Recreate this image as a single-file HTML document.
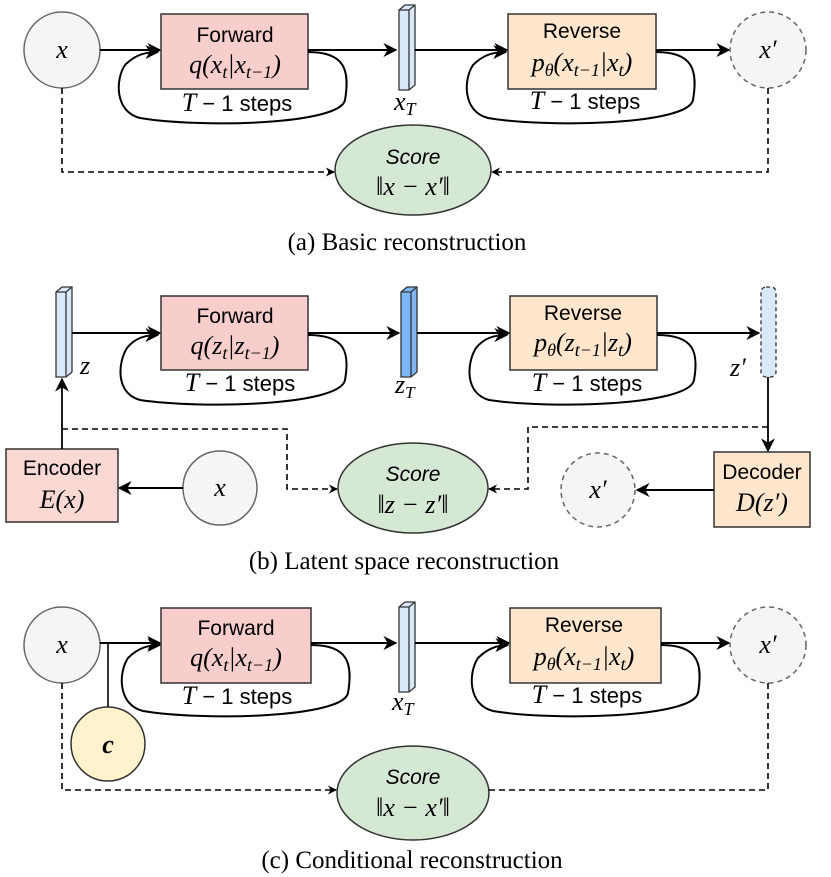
<!DOCTYPE html>
<html><head><meta charset="utf-8"><style>
html,body{margin:0;padding:0;background:#fff;}
svg{display:block;}
.m{font-family:"Liberation Serif",serif;font-style:italic;font-size:26px;}
.s{font-family:"Liberation Sans",sans-serif;font-size:21px;}
.st{font-family:"Liberation Sans",sans-serif;font-size:22px;}
.c{font-family:"Liberation Serif",serif;font-size:25px;}
</style></head><body>
<svg width="831" height="877" viewBox="0 0 831 877" xmlns="http://www.w3.org/2000/svg">
<defs>
<marker id="a" viewBox="0 0 10 10" refX="9" refY="5" markerWidth="9" markerHeight="9" orient="auto" markerUnits="userSpaceOnUse"><path d="M0,0 L10,5 L0,10 L3,5 z" fill="#000"/></marker>
<marker id="b" viewBox="0 0 10 10" refX="9" refY="5" markerWidth="14" markerHeight="14" orient="auto" markerUnits="userSpaceOnUse"><path d="M0,0 L10,5 L0,10 L3,5 z" fill="#000"/></marker>
</defs>

<!-- ===== Panel A ===== -->
<circle cx="62" cy="50" r="38" fill="#f5f5f5" stroke="#666" stroke-width="1.5"/>
<text x="62" y="58" class="m" text-anchor="middle">x</text>
<line x1="100" y1="50" x2="160" y2="50" stroke="#000" stroke-width="2" marker-end="url(#b)"/>
<rect x="161" y="14" width="147" height="75" fill="#f8cecc" stroke="#333" stroke-width="1.5"/>
<text x="235" y="42" class="s" text-anchor="middle">Forward</text>
<text x="235" y="73" class="m" text-anchor="middle">q(x<tspan font-size="18" dy="5">t</tspan><tspan dy="-5">|x</tspan><tspan font-size="18" dy="5">t−1</tspan><tspan dy="-5">)</tspan></text>
<path d="M308,52 C345,52 350,70 345,100 C340,125 200,128 140,118 C115,112 115,80 125,65 C135,55 145,52 158,52" fill="none" stroke="#000" stroke-width="2" marker-end="url(#b)"/>
<text x="237" y="111" class="st" text-anchor="middle"><tspan class="m" font-size="23">T</tspan> − 1 steps</text>
<line x1="308" y1="50" x2="396" y2="50" stroke="#000" stroke-width="2" marker-end="url(#b)"/>
<g stroke="#333" stroke-width="1.3" fill="#dae8fc"><path d="M399,10 L405,5 L415,5 L415,85 L409,90 L399,90 z"/><path d="M399,10 L409,10 L415,5" fill="none"/><line x1="409" y1="10" x2="409" y2="90"/></g>
<text x="394" y="110" class="m">x<tspan font-size="18" dy="5">T</tspan></text>
<line x1="415" y1="50" x2="507" y2="50" stroke="#000" stroke-width="2" marker-end="url(#b)"/>
<rect x="508" y="14" width="148" height="75" fill="#ffe6cc" stroke="#333" stroke-width="1.5"/>
<text x="582" y="38" class="s" text-anchor="middle">Reverse</text>
<text x="582" y="71" class="m" text-anchor="middle">p<tspan font-size="18" dy="5">θ</tspan><tspan dy="-5">(x</tspan><tspan font-size="18" dy="5">t−1</tspan><tspan dy="-5">|x</tspan><tspan font-size="18" dy="5">t</tspan><tspan dy="-5">)</tspan></text>
<path d="M656,52 C693,52 698,70 693,100 C688,125 548,128 488,118 C463,112 463,80 473,65 C483,55 493,52 506,52" fill="none" stroke="#000" stroke-width="2" marker-end="url(#b)"/>
<text x="585" y="109" class="st" text-anchor="middle"><tspan class="m" font-size="23">T</tspan> − 1 steps</text>
<line x1="656" y1="50" x2="729" y2="50" stroke="#000" stroke-width="2" marker-end="url(#b)"/>
<circle cx="768" cy="50" r="38" fill="#f5f5f5" stroke="#666" stroke-width="1.5" stroke-dasharray="5,4"/>
<text x="768" y="58" class="m" text-anchor="middle">x′</text>
<ellipse cx="413" cy="170" rx="78" ry="45" fill="#d5e8d4" stroke="#333" stroke-width="1.5"/>
<text x="413" y="164" class="s" font-style="italic" text-anchor="middle">Score</text>
<text x="413" y="195" class="m" text-anchor="middle">‖x − x′‖</text>
<polyline points="62,88 62,172 334,172" fill="none" stroke="#000" stroke-width="1.6" stroke-dasharray="6,4" marker-end="url(#a)"/>
<polyline points="768,88 768,172 492,172" fill="none" stroke="#000" stroke-width="1.6" stroke-dasharray="6,4" marker-end="url(#a)"/>
<text x="407" y="250" class="c" text-anchor="middle">(a) Basic reconstruction</text>

<!-- ===== Panel B ===== -->
<g stroke="#333" stroke-width="1.3" fill="#dae8fc"><path d="M56,292 L62,287 L72,287 L72,372 L66,377 L56,377 z"/><path d="M56,292 L66,292 L72,287" fill="none"/><line x1="66" y1="292" x2="66" y2="377"/></g>
<text x="80" y="374" class="m" font-size="22">z</text>
<line x1="72" y1="333" x2="160" y2="333" stroke="#000" stroke-width="2" marker-end="url(#b)"/>
<rect x="161" y="296" width="147" height="74" fill="#f8cecc" stroke="#333" stroke-width="1.5"/>
<text x="235" y="323" class="s" text-anchor="middle">Forward</text>
<text x="235" y="354" class="m" text-anchor="middle">q(z<tspan font-size="18" dy="5">t</tspan><tspan dy="-5">|z</tspan><tspan font-size="18" dy="5">t−1</tspan><tspan dy="-5">)</tspan></text>
<path d="M308,335 C345,335 350,352 345,380 C340,406 200,409 140,400 C115,393 118,362 127,348 C135,338 145,335 158,335" fill="none" stroke="#000" stroke-width="2" marker-end="url(#b)"/>
<text x="240" y="391" class="st" text-anchor="middle"><tspan class="m" font-size="23">T</tspan> − 1 steps</text>
<line x1="308" y1="333" x2="399" y2="333" stroke="#000" stroke-width="2" marker-end="url(#b)"/>
<g stroke="#333" stroke-width="1.3" fill="#7eb6f5"><path d="M401,292 L407,287 L417,287 L417,372 L411,377 L401,377 z"/><path d="M401,292 L411,292 L417,287" fill="none"/><line x1="411" y1="292" x2="411" y2="377"/></g>
<text x="395" y="393" class="m" font-size="24">z<tspan font-size="17" dy="5">T</tspan></text>
<line x1="417" y1="333" x2="509" y2="333" stroke="#000" stroke-width="2" marker-end="url(#b)"/>
<rect x="510" y="296" width="147" height="74" fill="#ffe6cc" stroke="#333" stroke-width="1.5"/>
<text x="583" y="320" class="s" text-anchor="middle">Reverse</text>
<text x="583" y="351" class="m" text-anchor="middle">p<tspan font-size="18" dy="5">θ</tspan><tspan dy="-5">(z</tspan><tspan font-size="18" dy="5">t−1</tspan><tspan dy="-5">|z</tspan><tspan font-size="18" dy="5">t</tspan><tspan dy="-5">)</tspan></text>
<path d="M657,335 C694,335 699,352 694,380 C689,406 549,409 489,400 C464,393 467,362 476,348 C484,338 494,335 507,335" fill="none" stroke="#000" stroke-width="2" marker-end="url(#b)"/>
<text x="587" y="391" class="st" text-anchor="middle"><tspan class="m" font-size="23">T</tspan> − 1 steps</text>
<line x1="657" y1="333" x2="759" y2="333" stroke="#000" stroke-width="2" marker-end="url(#b)"/>
<rect x="761" y="287" width="15" height="90" rx="5" fill="#dae8fc" stroke="#333" stroke-width="1.3" stroke-dasharray="4,3"/>
<text x="730" y="376" class="m" font-size="24">z′</text>
<line x1="768" y1="377" x2="768" y2="451" stroke="#000" stroke-width="1.8" marker-end="url(#b)"/>
<rect x="714" y="452" width="96" height="75" fill="#ffe6cc" stroke="#333" stroke-width="1.5"/>
<text x="762" y="479" class="s" text-anchor="middle">Decoder</text>
<text x="762" y="511" class="m" text-anchor="middle">D(z′)</text>
<rect x="6" y="449" width="112" height="73" fill="#fad9d5" stroke="#333" stroke-width="1.5"/>
<text x="62" y="475" class="s" text-anchor="middle">Encoder</text>
<text x="62" y="508" class="m" text-anchor="middle">E(x)</text>
<line x1="62" y1="449" x2="62" y2="379" stroke="#000" stroke-width="1.8" marker-end="url(#b)"/>
<ellipse cx="220" cy="488" rx="37" ry="37" fill="#f5f5f5" stroke="#666" stroke-width="1.5"/>
<text x="220" y="496" class="m" text-anchor="middle">x</text>
<line x1="183" y1="488" x2="119" y2="488" stroke="#000" stroke-width="2" marker-end="url(#b)"/>
<ellipse cx="413" cy="488" rx="75" ry="45" fill="#d5e8d4" stroke="#333" stroke-width="1.5"/>
<text x="413" y="481" class="s" font-style="italic" text-anchor="middle">Score</text>
<text x="413" y="513" class="m" text-anchor="middle">‖z − z′‖</text>
<polyline points="62,429 287,429 287,489 337,489" fill="none" stroke="#000" stroke-width="1.6" stroke-dasharray="6,4" marker-end="url(#a)"/>
<polyline points="768,427 528,427 528,489 489,489" fill="none" stroke="#000" stroke-width="1.6" stroke-dasharray="6,4" marker-end="url(#a)"/>
<circle cx="598" cy="490" r="37" fill="#f5f5f5" stroke="#666" stroke-width="1.5" stroke-dasharray="5,4"/>
<text x="598" y="498" class="m" text-anchor="middle">x′</text>
<line x1="714" y1="490" x2="637" y2="490" stroke="#000" stroke-width="2" marker-end="url(#b)"/>
<text x="404" y="569" class="c" text-anchor="middle">(b) Latent space reconstruction</text>

<!-- ===== Panel C ===== -->
<g transform="translate(0,597)">
<circle cx="62" cy="48" r="38" fill="#f5f5f5" stroke="#666" stroke-width="1.5"/>
<text x="62" y="56" class="m" text-anchor="middle">x</text>
<line x1="100" y1="46" x2="160" y2="46" stroke="#000" stroke-width="2" marker-end="url(#b)"/>
<line x1="108" y1="46" x2="108" y2="110" stroke="#000" stroke-width="1.6"/>
<circle cx="108" cy="147" r="37" fill="#fff2cc" stroke="#333" stroke-width="1.5"/>
<text x="108" y="156" class="m" font-weight="bold" text-anchor="middle">c</text>
<rect x="161" y="11" width="150" height="75" fill="#f8cecc" stroke="#333" stroke-width="1.5"/>
<text x="236" y="38" class="s" text-anchor="middle">Forward</text>
<text x="236" y="69" class="m" text-anchor="middle">q(x<tspan font-size="18" dy="5">t</tspan><tspan dy="-5">|x</tspan><tspan font-size="18" dy="5">t−1</tspan><tspan dy="-5">)</tspan></text>
<path d="M311,48 C348,48 353,66 348,96 C343,121 203,124 143,114 C118,108 118,76 128,61 C138,51 148,48 160,48" fill="none" stroke="#000" stroke-width="2" marker-end="url(#b)"/>
<text x="237" y="107" class="st" text-anchor="middle"><tspan class="m" font-size="23">T</tspan> − 1 steps</text>
<line x1="311" y1="46" x2="396" y2="46" stroke="#000" stroke-width="2" marker-end="url(#b)"/>
<g stroke="#333" stroke-width="1.3" fill="#dae8fc"><path d="M399,10 L405,5 L415,5 L415,90 L409,95 L399,95 z"/><path d="M399,10 L409,10 L415,5" fill="none"/><line x1="409" y1="10" x2="409" y2="95"/></g>
<text x="392" y="113" class="m">x<tspan font-size="18" dy="5">T</tspan></text>
<line x1="415" y1="46" x2="509" y2="46" stroke="#000" stroke-width="2" marker-end="url(#b)"/>
<rect x="510" y="11" width="151" height="75" fill="#ffe6cc" stroke="#333" stroke-width="1.5"/>
<text x="584" y="35" class="s" text-anchor="middle">Reverse</text>
<text x="584" y="68" class="m" text-anchor="middle">p<tspan font-size="18" dy="5">θ</tspan><tspan dy="-5">(x</tspan><tspan font-size="18" dy="5">t−1</tspan><tspan dy="-5">|x</tspan><tspan font-size="18" dy="5">t</tspan><tspan dy="-5">)</tspan></text>
<path d="M661,48 C698,48 703,66 698,96 C693,121 553,124 493,114 C468,108 468,76 478,61 C488,51 498,48 508,48" fill="none" stroke="#000" stroke-width="2" marker-end="url(#b)"/>
<text x="587" y="106" class="st" text-anchor="middle"><tspan class="m" font-size="23">T</tspan> − 1 steps</text>
<line x1="661" y1="46" x2="729" y2="46" stroke="#000" stroke-width="2" marker-end="url(#b)"/>
<circle cx="768" cy="48" r="38" fill="#f5f5f5" stroke="#666" stroke-width="1.5" stroke-dasharray="5,4"/>
<text x="768" y="56" class="m" text-anchor="middle">x′</text>
<ellipse cx="413" cy="196" rx="76" ry="47" fill="#d5e8d4" stroke="#333" stroke-width="1.5"/>
<text x="413" y="187" class="s" font-style="italic" text-anchor="middle">Score</text>
<text x="413" y="219" class="m" text-anchor="middle">‖x − x′‖</text>
<polyline points="62,86 62,193 336,193" fill="none" stroke="#000" stroke-width="1.6" stroke-dasharray="6,4" marker-end="url(#a)"/>
<polyline points="768,86 768,193 489,193" fill="none" stroke="#000" stroke-width="1.6" stroke-dasharray="6,4"/>
</g>
<text x="412" y="868" class="c" text-anchor="middle">(c) Conditional reconstruction</text>
</svg>
</body></html>
